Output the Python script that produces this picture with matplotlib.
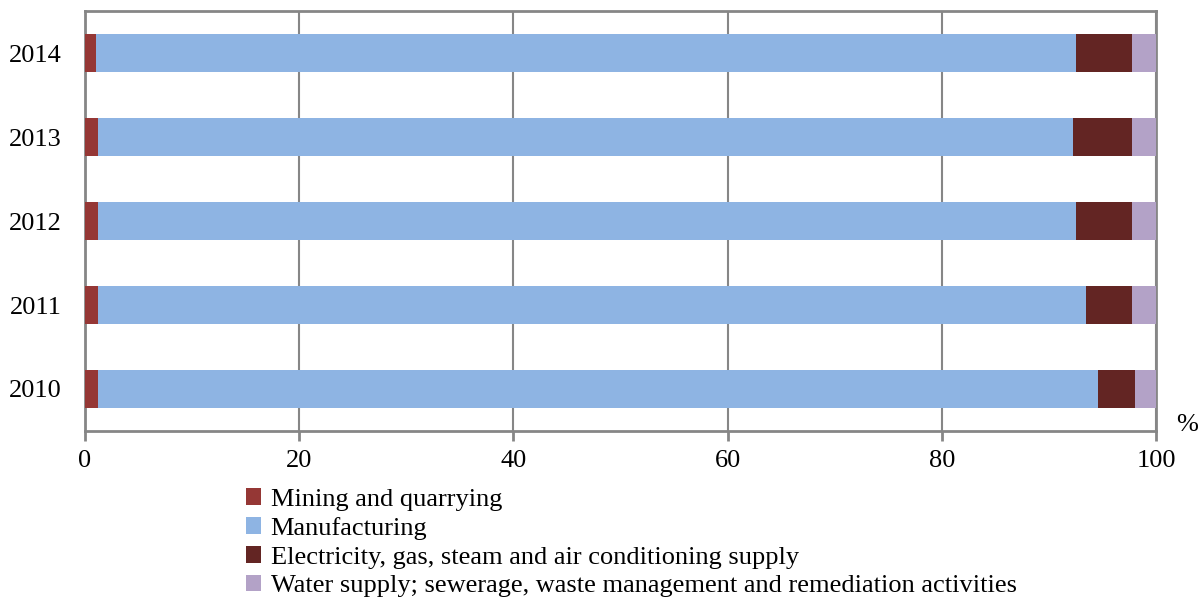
import numpy as np
import matplotlib.pyplot as plt

plt.rcParams['font.family'] = ['Liberation Serif', 'DejaVu Serif']

# SECTION Data

years = ["2010", "2011", "2012", "2013", "2014"]
mining = [1.2, 1.2, 1.2, 1.2, 1.0]
manufacturing = [93.4, 92.3, 91.3, 91.1, 91.5]
electricity = [3.4, 4.3, 5.3, 5.5, 5.3]
water = [2.0, 2.2, 2.2, 2.2, 2.2]

labels = ["Mining and quarrying",
          "Manufacturing",
          "Electricity, gas, steam and air conditioning supply",
          "Water supply; sewerage, waste management and remediation activities"]
colors = ["#953735", "#8EB4E3", "#632523", "#B3A2C7"]

# SECTION Plot

fig = plt.figure(figsize=(12.04, 5.99), dpi=100)
ax = fig.add_axes([0.0706, 0.2805, 0.8895, 0.701])

y = np.arange(len(years))
left = np.zeros(len(years))
for vals, lab, col in zip([mining, manufacturing, electricity, water], labels, colors):
    ax.barh(y, vals, left=left, height=0.45, color=col, label=lab, zorder=3)
    left += np.array(vals)

ax.set_xlim(0, 100)
ax.set_ylim(-0.5, len(years) - 0.5)
ax.set_xticks([0, 20, 40, 60, 80, 100])
ax.set_yticks(y)
ax.set_yticklabels(years)
ax.tick_params(axis='x', labelsize=19, length=7, width=2, color="#868686", pad=7)
ax.tick_params(axis='y', labelsize=19, length=0, pad=17)
ax.grid(axis='x', color="#868686", linewidth=1.5, zorder=0)
for sp in ax.spines.values():
    sp.set_color("#868686")
    sp.set_linewidth(2)

fig.text(0.995, 0.29, "%", fontsize=19, ha='right', va='center')

fig.legend(loc='upper left', bbox_to_anchor=(0.204, 0.185), frameon=False,
           fontsize=19, handlelength=0.6, handleheight=0.6, handletextpad=0.35,
           labelspacing=0.23, borderpad=0, borderaxespad=0)

fig.savefig("out.png", dpi=100)
